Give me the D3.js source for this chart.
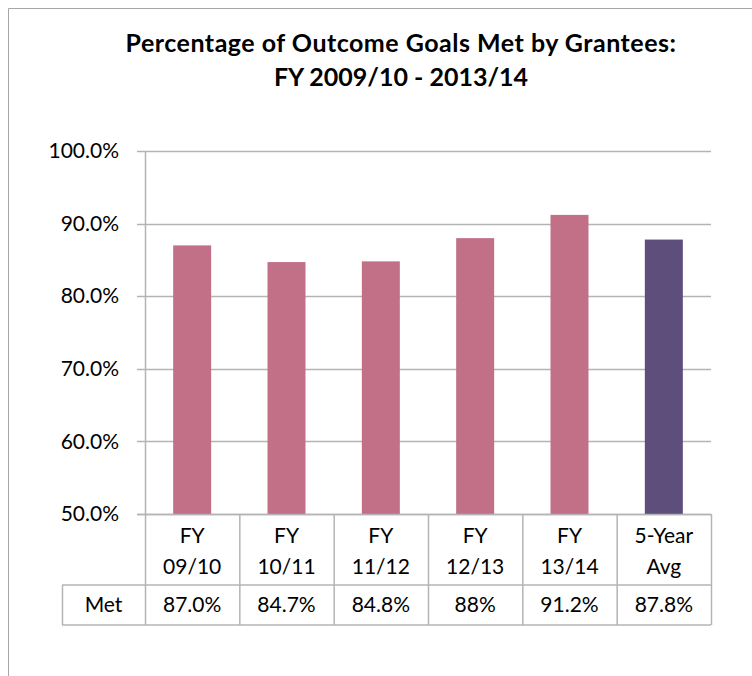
<!DOCTYPE html>
<html>
<head>
<meta charset="utf-8">
<script src="https://cdn.jsdelivr.net/npm/d3@7"></script>
<style>
  html, body { margin: 0; padding: 0; background: #fff; }
  svg { display: block; }
  text { font-family: Lato, "Open Sans", sans-serif; fill: #000; }
</style>
</head>
<body>
<svg id="chart" width="752" height="676"></svg>
<script>
const titleLines = ["Percentage of Outcome Goals Met by Grantees:", "FY 2009/10 - 2013/14"];
const categories = [["FY", "09/10"], ["FY", "10/11"], ["FY", "11/12"], ["FY", "12/13"], ["FY", "13/14"], ["5-Year", "Avg"]];
const values = [87.0, 84.7, 84.8, 88.0, 91.2, 87.8];
const valueLabels = ["87.0%", "84.7%", "84.8%", "88%", "91.2%", "87.8%"];
const seriesName = "Met";
const yTicks = [50, 60, 70, 80, 90, 100];
const barColors = ["#C27087", "#C27087", "#C27087", "#C27087", "#C27087", "#5D4E7C"];

(function () {
const svg = d3.select("#chart");
const gridColor = "#B4B4B4";

svg.append("path")
  .attr("d", "M8.5,676 L8.5,8.5 L752,8.5")
  .attr("fill", "none").attr("stroke", "#A6A6A6").attr("stroke-width", 1);

svg.append("g").selectAll("text").data(titleLines).join("text")
  .attr("x", 401).attr("y", (d, i) => 52 + i * 34)
  .attr("text-anchor", "middle")
  .attr("font-size", 25).attr("font-weight", "bold")
  .attr("letter-spacing", (d, i) => i === 0 ? 0.5 : 0)
  .text(d => d);

const pLeft = 145, pRight = 711, pTop = 151, pBottom = 514;
const x = d3.scaleBand().domain(d3.range(categories.length)).range([pLeft, pRight]).paddingInner(0).paddingOuter(0);
const y = d3.scaleLinear().domain([50, 100]).range([pBottom, pTop]);

svg.append("g").selectAll("line").data(yTicks).join("line")
  .attr("x1", pLeft - 8).attr("x2", pRight)
  .attr("y1", d => Math.round(y(d)) + 0.5).attr("y2", d => Math.round(y(d)) + 0.5)
  .attr("stroke", gridColor).attr("stroke-width", 1.5);

const yAxis = d3.axisLeft(y).tickValues(yTicks).tickFormat(d => d3.format(".1f")(d) + "%").tickSize(0).tickPadding(26);
const ya = svg.append("g").attr("transform", `translate(${pLeft},0)`).call(yAxis);
ya.select(".domain").remove();
ya.selectAll("text").attr("font-size", 21).attr("font-family", "Lato, sans-serif").attr("fill", "#000");

const bw = 38;
svg.append("g").selectAll("rect").data(values).join("rect")
  .attr("x", (d, i) => x(i) + (x.bandwidth() - bw) / 2)
  .attr("width", bw)
  .attr("y", d => y(d))
  .attr("height", d => y(50) - y(d))
  .attr("fill", (d, i) => barColors[i]);

svg.append("line").attr("x1", pLeft + 0.5).attr("x2", pLeft + 0.5).attr("y1", pTop).attr("y2", pBottom)
  .attr("stroke", gridColor).attr("stroke-width", 1.5);

const rowTop = pBottom, rowMid = 585, rowBot = 625, tableLeft = 62;
const tg = svg.append("g");
const stroke = (sel) => sel.attr("stroke", gridColor).attr("stroke-width", 1.5);
tg.append("line").attr("x1", tableLeft).attr("x2", pRight).attr("y1", rowMid).attr("y2", rowMid).call(stroke);
tg.append("line").attr("x1", tableLeft).attr("x2", pRight).attr("y1", rowBot).attr("y2", rowBot).call(stroke);
tg.append("line").attr("x1", pLeft - 8).attr("x2", pRight).attr("y1", pBottom + 0.5).attr("y2", pBottom + 0.5).call(stroke);
const bounds = d3.range(categories.length).map(i => x(i)).concat([pRight]);
tg.selectAll("line.v").data(bounds).join("line").attr("class", "v")
  .attr("x1", d => d + 0.5).attr("x2", d => d + 0.5).attr("y1", rowTop).attr("y2", rowBot).call(stroke);
tg.append("line").attr("x1", tableLeft + 0.5).attr("x2", tableLeft + 0.5).attr("y1", rowMid).attr("y2", rowBot).call(stroke);

const catG = tg.selectAll("text.cat").data(categories).join("text").attr("class", "cat")
  .attr("text-anchor", "middle").attr("font-size", 21);
catG.selectAll("tspan").data((d, i) => d.map(t => ({ t, i }))).join("tspan")
  .attr("x", d => x(d.i) + x.bandwidth() / 2)
  .attr("y", (d, j) => 543 + j * 31)
  .text(d => d.t);

tg.append("text").attr("x", (tableLeft + pLeft) / 2).attr("y", 612).attr("text-anchor", "middle")
  .attr("font-size", 21).text(seriesName);
tg.selectAll("text.val").data(valueLabels).join("text").attr("class", "val")
  .attr("x", (d, i) => x(i) + x.bandwidth() / 2).attr("y", 612)
  .attr("text-anchor", "middle").attr("font-size", 21).text(d => d);
})();
</script>
</body>
</html>
